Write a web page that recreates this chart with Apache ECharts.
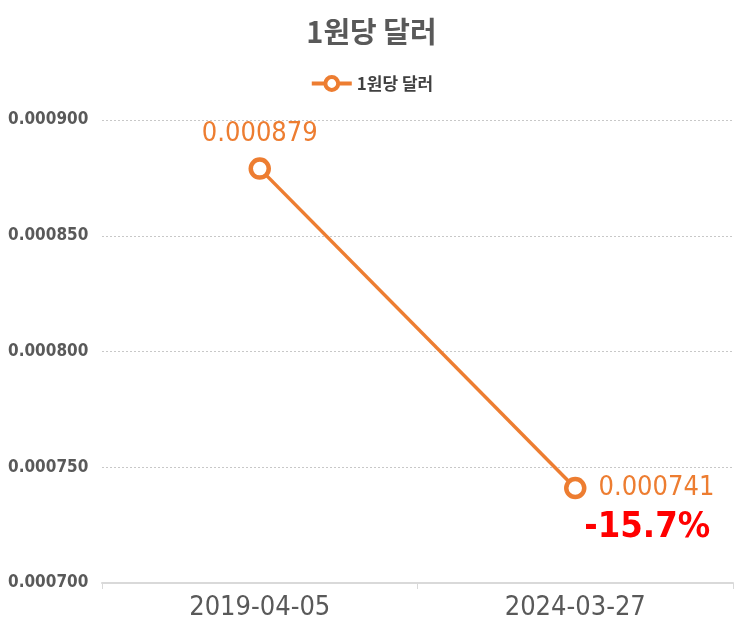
<!DOCTYPE html>
<html><head><meta charset="utf-8">
<script src="https://cdn.jsdelivr.net/npm/echarts@6/dist/echarts.min.js"></script>
<style>html,body{margin:0;padding:0;background:#fff}#c{width:743px;height:631px}</style>
</head><body><div id="c"></div>
<script>
const title = '1원당 달러';
const seriesName = '1원당 달러';
const categories = ['2019-04-05', '2024-03-27'];
const values = [0.000879, 0.000741];
const yTicks = [0.0007, 0.00075, 0.0008, 0.00085, 0.0009];
const changeText = '-15.7%';

const NARROW = '"Liberation Sans Narrow","DejaVu Sans Condensed","Noto Sans CJK KR",sans-serif';
const KR = '"Noto Sans CJK KR","Noto Sans",sans-serif';
const orange = '#ED7D31';
const chart = echarts.init(document.getElementById('c'));
chart.setOption({
  animation: false,
  title: {text: title, left: 'center', top: 12, textStyle: {fontFamily: KR, fontSize: 29, fontWeight: 'bold', color: '#595959'}},
  legend: {data: [seriesName], top: 70, left: 'center', itemWidth: 40, itemHeight: 16, itemGap: 8,
    lineStyle: {width: 4, color: orange},
    itemStyle: {borderWidth: 4, color: '#fff', borderColor: orange},
    textStyle: {fontFamily: KR, fontSize: 17, color: '#404040', fontWeight: 'bold'}},
  grid: {left: 102, right: 10, top: 120, bottom: 48},
  xAxis: {type: 'category', data: categories, boundaryGap: true,
    axisLine: {lineStyle: {color: '#d9d9d9', width: 2}},
    axisTick: {show: true, length: 6, lineStyle: {color: '#d9d9d9'}},
    axisLabel: {fontFamily: NARROW, fontSize: 27, color: '#595959', margin: 11}},
  yAxis: {type: 'value', min: yTicks[0], max: yTicks[yTicks.length-1], interval: 0.00005,
    axisLine: {show: false}, axisTick: {show: false},
    splitLine: {lineStyle: {color: '#c8c8c8', type: [2, 2], width: 1}},
    axisLabel: {fontFamily: NARROW, fontSize: 17, fontWeight: 'bold', color: '#595959', align: 'left', margin: 94,
      formatter: v => v.toFixed(6)}},
  series: [{
    name: seriesName, type: 'line',
    data: [
      {value: values[0], label: {position: 'top', distance: 10}},
      {value: values[1], label: {position: 'right', distance: 12}}
    ],
    symbol: 'circle', symbolSize: 18,
    lineStyle: {color: orange, width: 3.5},
    itemStyle: {color: '#fff', borderColor: orange, borderWidth: 4.5},
    label: {show: true, fontFamily: NARROW, fontSize: 27, color: orange,
      formatter: p => p.value.toFixed(6)},
    markPoint: {
      symbol: 'circle', symbolSize: 0,
      data: [{coord: [categories[1], values[1]], value: changeText}],
      label: {show: true, position: 'inside', offset: [72, 40], formatter: changeText,
        fontFamily: NARROW, fontSize: 36, fontWeight: 'bold', color: '#FF0000'}
    }
  }]
});
</script></body></html>
